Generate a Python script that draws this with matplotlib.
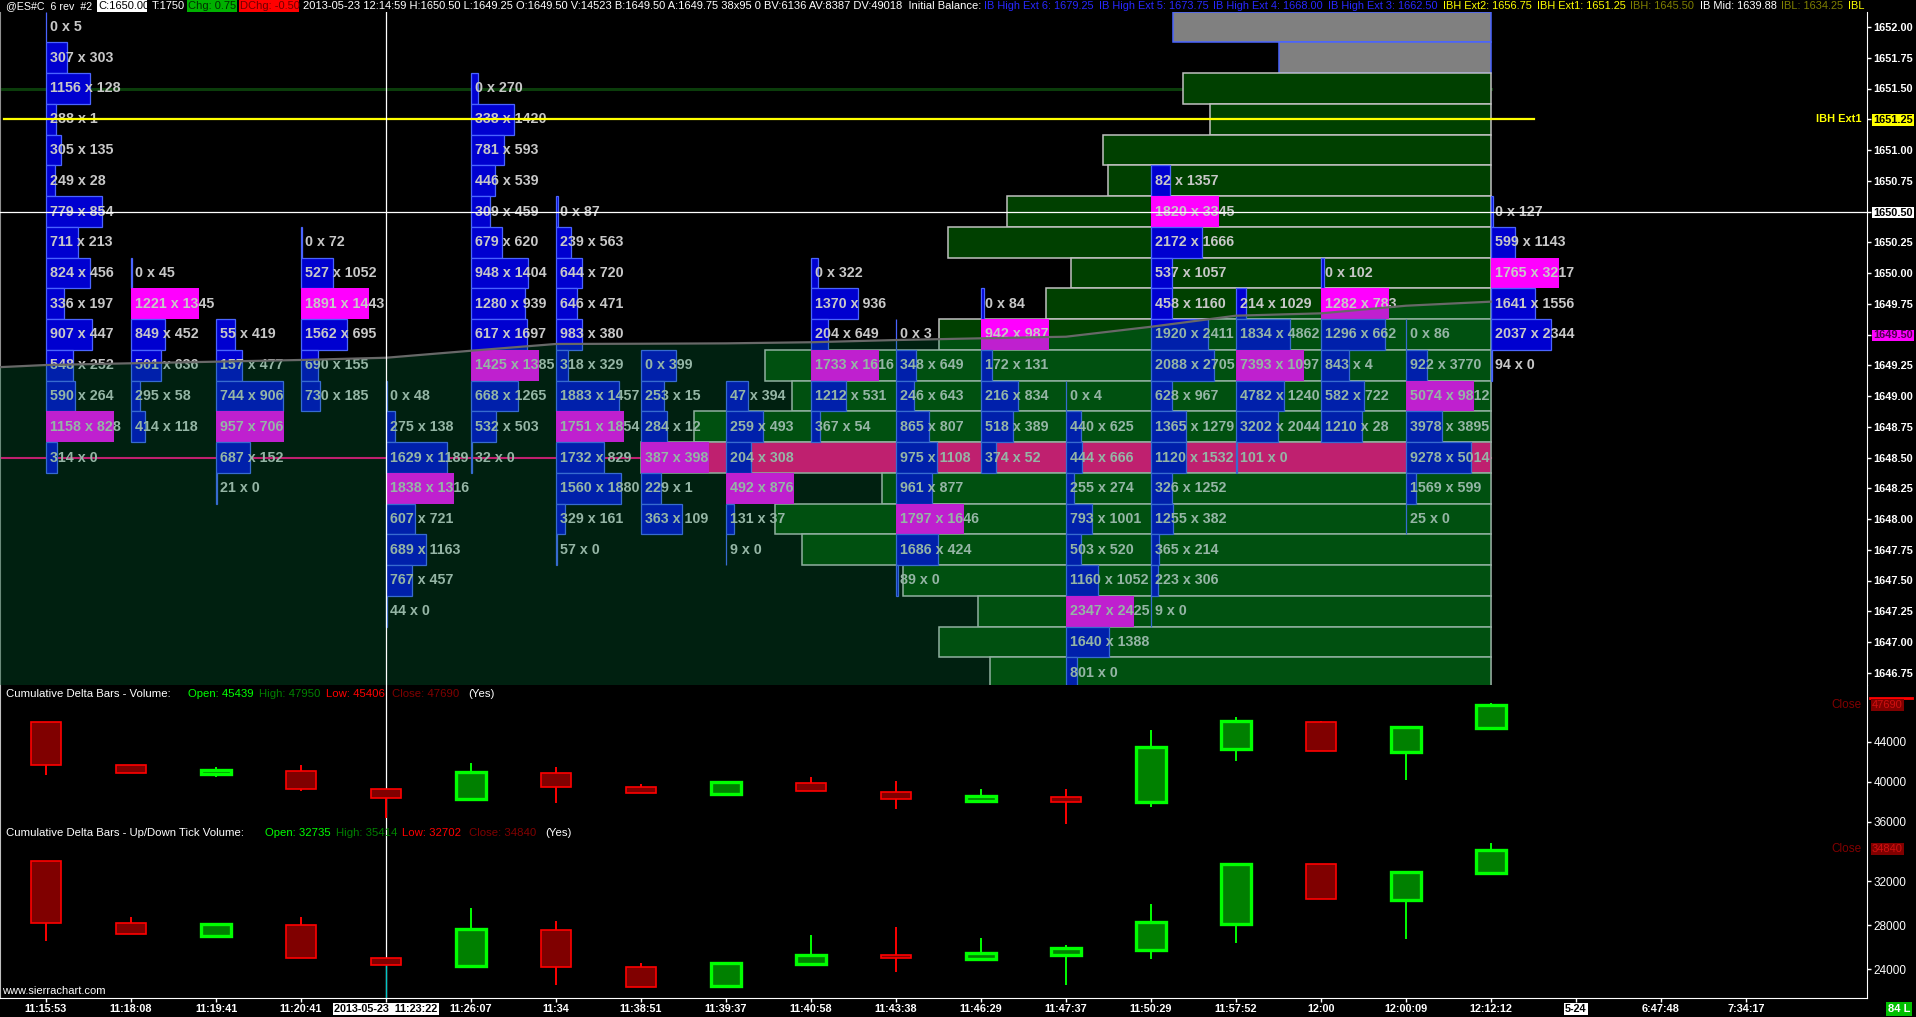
import numpy as np
import matplotlib
matplotlib.use("Agg")
import matplotlib.pyplot as plt
from matplotlib.patches import Rectangle
from matplotlib.lines import Line2D

plt.rcParams['font.family'] = ['Liberation Sans', 'DejaVu Sans']

W, H = 1916, 1017

# -----------------------------------------------------------------------------
# Footprint data: top price of each bar, then bid x ask per 0.25 row (top down)
# -----------------------------------------------------------------------------
col_top = [1652.00, 1650.00, 1649.50, 1650.25, 1649.00, 1651.50, 1650.50, 1649.25, 1649.00,
           1650.00, 1649.50, 1649.75, 1649.00, 1650.75, 1649.75, 1650.00, 1649.50, 1650.50]

col_bid = [
    [0, 307, 1156, 288, 305, 249, 779, 711, 824, 336, 907, 548, 590, 1158, 314],
    [0, 1221, 849, 501, 295, 414],
    [55, 157, 744, 957, 687, 21],
    [0, 527, 1891, 1562, 690, 730],
    [0, 275, 1629, 1838, 607, 689, 767, 44],
    [0, 338, 781, 446, 309, 679, 948, 1280, 617, 1425, 668, 532, 32],
    [0, 239, 644, 646, 983, 318, 1883, 1751, 1732, 1560, 329, 57],
    [0, 253, 284, 387, 229, 363],
    [47, 259, 204, 492, 131, 9],
    [0, 1370, 204, 1733, 1212, 367],
    [0, 348, 246, 865, 975, 961, 1797, 1686, 89],
    [0, 942, 172, 216, 518, 374],
    [0, 440, 444, 255, 793, 503, 1160, 2347, 1640, 801],
    [82, 1820, 2172, 537, 458, 1920, 2088, 628, 1365, 1120, 326, 1255, 365, 223, 9],
    [214, 1834, 7393, 4782, 3202, 101],
    [0, 1282, 1296, 843, 582, 1210],
    [0, 922, 5074, 3978, 9278, 1569, 25],
    [0, 599, 1765, 1641, 2037, 94],
]
col_ask = [
    [5, 303, 128, 1, 135, 28, 854, 213, 456, 197, 447, 252, 264, 828, 0],
    [45, 1345, 452, 636, 58, 118],
    [419, 477, 906, 706, 152, 0],
    [72, 1052, 1443, 695, 155, 185],
    [48, 138, 1189, 1316, 721, 1163, 457, 0],
    [270, 1420, 593, 539, 459, 620, 1404, 939, 1697, 1385, 1265, 503, 0],
    [87, 563, 720, 471, 380, 329, 1457, 1854, 829, 1880, 161, 0],
    [399, 15, 12, 398, 1, 109],
    [394, 493, 308, 876, 37, 0],
    [322, 936, 649, 1616, 531, 54],
    [3, 649, 643, 807, 1108, 877, 1646, 424, 0],
    [84, 987, 131, 834, 389, 52],
    [4, 625, 666, 274, 1001, 520, 1052, 2425, 1388, 0],
    [1357, 3345, 1666, 1057, 1160, 2411, 2705, 967, 1279, 1532, 1252, 382, 214, 306, 0],
    [1029, 4862, 1097, 1240, 2044, 0],
    [102, 783, 662, 4, 722, 28],
    [86, 3770, 9812, 3895, 5014, 599, 0],
    [127, 1143, 3217, 1556, 2344, 0],
]

# session volume profile (relative volume, top price 1652.00 downward)
profile_top = 1652.00
profile_volume = [318, 212, 308, 281, 388, 383, 484, 543, 420, 445, 552,
                  726, 699, 797, 850, 609, 716, 689, 588, 513, 552, 501]
profile_gray_rows = 2

# VWAP-like line, one value per bar (bar -1 is the one left of the screen)
vwap_x = list(range(-1, 18))
vwap = [1649.220, 1649.252, 1649.266, 1649.279, 1649.293, 1649.311, 1649.368, 1649.423,
        1649.425, 1649.428, 1649.437, 1649.455, 1649.469, 1649.482, 1649.563, 1649.653,
        1649.672, 1649.734, 1649.767]

# cumulative delta - volume
cd_open = [45970, 41670, 40830, 41100, 39270, 38300, 40870, 39470, 38800,
           39900, 39000, 38130, 38500, 37970, 43270, 45970, 42970, 45439]
cd_high = [45970, 41670, 41470, 41670, 39270, 41870, 41470, 39770, 40000,
           40500, 40100, 39300, 39300, 45200, 46500, 46100, 45470, 47950]
cd_low = [40730, 40930, 40500, 39130, 36370, 38300, 37930, 38870, 38800,
          39100, 37300, 38130, 35800, 37500, 42130, 43070, 40230, 45406]
cd_close = [41670, 40930, 41200, 39270, 38370, 40970, 39470, 38870, 40000,
            39100, 38300, 38600, 38030, 43470, 46070, 43070, 45470, 47690]

# cumulative delta - up/down tick volume
tk_open = [33790, 28155, 27027, 27973, 25000, 24245, 27545, 24145, 22455,
           24427, 25245, 24882, 25236, 25727, 28064, 33518, 30245, 32735]
tk_high = [33790, 28727, 28064, 28727, 25000, 29545, 28364, 24509, 24573,
           27090, 27818, 26818, 26155, 29909, 33573, 33518, 32791, 35414]
tk_low = [26573, 27155, 26936, 24964, 24330, 24245, 22573, 22327, 22455,
          24427, 23755, 24882, 22564, 24936, 26391, 30336, 26755, 32702]
tk_close = [28155, 27155, 28064, 24964, 24330, 27636, 24155, 22327, 24573,
            25300, 24973, 25427, 25882, 28245, 33573, 30336, 32791, 34840]

time_labels = ["11:15:53", "11:18:08", "11:19:41", "11:20:41", "2013-05-23  11:23:22",
               "11:26:07", "11:34", "11:38:51", "11:39:37", "11:40:58", "11:43:38",
               "11:46:29", "11:47:37", "11:50:29", "11:57:52", "12:00", "12:00:09",
               "12:12:12", "5-24", "6:47:48", "7:34:17"]

# -----------------------------------------------------------------------------
# Layout helpers (pixel based)
# -----------------------------------------------------------------------------
X0_PX, COL_PX, AXIS_PX = 46, 85, 1867
XLIM = (-X0_PX / COL_PX, (AXIS_PX - X0_PX) / COL_PX)
PX_PER_POINT = 123.0   # pixels per 1.00 of price
MAIN_TOP, MAIN_BOT = 12, 685


def rect_px(x0, y0, x1, y1):
    return [x0 / W, 1 - y1 / H, (x1 - x0) / W, (y1 - y0) / H]


def fx(x):
    return x / W


def fy(y):
    return 1 - y / H


def ux(px):
    return (px - X0_PX) / COL_PX


fig = plt.figure(figsize=(W / 100, H / 100), dpi=100, facecolor='black')
renderer = fig.canvas.get_renderer()

# --- main footprint panel ---
ax = fig.add_axes(rect_px(0, MAIN_TOP, AXIS_PX, MAIN_BOT))
ax.set_facecolor('black')

# volume profile drawn from bar 17 leftwards
pmax = max(profile_volume)
for k, v in enumerate(profile_volume):
    p = profile_top - 0.25 * k
    w = v / pmax * 10.0
    if k < profile_gray_rows:
        fc, ec = '#808080', '#4a64ff'
    elif v == pmax:
        fc, ec = '#ff0080', '#c0c0c0'
    else:
        fc, ec = '#004000', '#c0c0c0'
    ax.add_patch(Rectangle((17 - w, p - 0.125), w, 0.25, fc=fc, ec=ec, lw=1.1, zorder=1))

ax.plot([XLIM[0], 17], [1651.50, 1651.50], color='#0b3d0b', lw=2.2, zorder=0.8)
ax.plot([XLIM[0], 17], [1648.50, 1648.50], color='#ff0080', lw=1.5, zorder=0.8)

for i, (top, bids, asks) in enumerate(zip(col_top, col_bid, col_ask)):
    tot = [b + a for b, a in zip(bids, asks)]
    vmax = max(tot)
    for k, (b, a, t) in enumerate(zip(bids, asks, tot)):
        p = top - 0.25 * k
        w = t / vmax * 0.8
        if t == vmax:
            ax.add_patch(Rectangle((i, p - 0.125), w, 0.25, fc='#ff00ff', ec='none', zorder=2))
        else:
            ax.add_patch(Rectangle((i, p - 0.125), w, 0.25, fc='#0000d0', ec='#4a64ff',
                                   lw=0.9, zorder=2))
        ax.text(i + 0.05, p, f"{b} x {a}", color='#c8c8c8', fontsize=10.3,
                fontweight='bold', va='center', ha='left', zorder=3)

ylo = 1652 - (MAIN_BOT - 27) / PX_PER_POINT
yhi = 1652 + (27 - MAIN_TOP) / PX_PER_POINT
ax.fill_between(vwap_x, vwap, ylo, color=(0, 0.5, 0.25), alpha=0.25, lw=0, zorder=4)
ax.plot(vwap_x, vwap, color='#686868', lw=1.6, zorder=5)

ax.plot([ux(4), ux(1534)], [1651.25, 1651.25], color='#ffff00', lw=1.6, zorder=6)
ax.axhline(1650.50, color='white', lw=0.9, zorder=6)
ax.axvline(4, color='white', lw=0.9, zorder=6)

ax.set_xlim(*XLIM)
ax.set_ylim(ylo, yhi)
ax.set_xticks([])
ticks = np.arange(1646.75, 1652.01, 0.25)
ax.yaxis.tick_right()
ax.set_yticks(ticks)
ax.set_yticklabels([f"{t:.2f}" for t in ticks])
ax.tick_params(axis='y', colors='white', length=3, width=1, pad=1.5, labelsize=7.9)
special = {1651.25: ('#ffff00', 'black'), 1650.50: ('white', 'black'),
           1649.50: ('#ff00ff', '#500050')}
for t, lab in zip(ticks, ax.get_yticklabels()):
    lab.set_fontweight('bold')
    for sp, (bg, fg) in special.items():
        if abs(t - sp) < 1e-6:
            lab.set_color(fg)
            lab.set_bbox(dict(facecolor=bg, edgecolor='none', pad=0.6))
for s in ['top', 'bottom']:
    ax.spines[s].set_visible(False)
ax.spines['right'].set_color('white')
ax.spines['left'].set_color('#909090')
fig.text(fx(1862), fy(119), "IBH Ext1", color='#ffff00', fontsize=7.9, fontweight='bold',
         ha='right', va='center')


# --- candle panels ---
def draw_candles(a, o, h, l, c):
    bw = 0.35
    for i in range(len(o)):
        up = c[i] >= o[i]
        edge = '#00ff00' if up else '#ff0000'
        face = '#008000' if up else '#800000'
        a.plot([i, i], [l[i], h[i]], color=edge, lw=1.4, zorder=2, solid_capstyle='butt')
        lo, hi = min(o[i], c[i]), max(o[i], c[i])
        a.add_patch(Rectangle((i - bw / 2, lo), bw, hi - lo, fc=face, ec=edge,
                              lw=2.4 if up else 1.2, zorder=3))


def style_panel(a, ylim, yticks):
    a.set_facecolor('black')
    a.set_xlim(*XLIM)
    a.set_ylim(*ylim)
    a.yaxis.tick_right()
    a.set_yticks(yticks)
    a.set_yticklabels([str(v) for v in yticks])
    a.tick_params(axis='y', colors='white', length=3, width=1, pad=1.5, labelsize=8.5)
    a.spines['top'].set_visible(False)
    a.spines['right'].set_color('white')
    a.spines['left'].set_color('#c0c0c0')
    a.axvline(4, color='white', lw=0.9, zorder=1)


ax2 = fig.add_axes(rect_px(0, MAIN_BOT, AXIS_PX, 825))
draw_candles(ax2, cd_open, cd_high, cd_low, cd_close)
style_panel(ax2, (44000 - (825 - 742) * 100, 44000 + (742 - MAIN_BOT) * 100),
            [36000, 40000, 44000])
ax2.spines['bottom'].set_visible(False)
ax2.set_xticks([])

ax3 = fig.add_axes(rect_px(0, 825, AXIS_PX, 998))
tk_per_px = 4000 / 44
tk_ylim = (32000 - (998 - 881) * tk_per_px, 32000 + (881 - 825) * tk_per_px)
draw_candles(ax3, tk_open, tk_high, tk_low, tk_close)
style_panel(ax3, tk_ylim, [24000, 28000, 32000])
ax3.plot([4, 4], [tk_ylim[0], min(tk_open[4], tk_close[4])], color='#00c8c8', lw=0.9, zorder=1.5)
ax3.spines['bottom'].set_color('white')
ax3.set_xticks(range(len(time_labels)))
ax3.set_xticklabels(time_labels)
ax3.tick_params(axis='x', colors='white', length=3, width=1, pad=1.5, labelsize=7.8)
for k, lab in enumerate(ax3.get_xticklabels()):
    lab.set_fontweight('bold')
    if k in (4, 18):
        lab.set_color('black')
        lab.set_bbox(dict(facecolor='white', edgecolor='none', pad=0.8))

# --- panel titles ---
title_font = dict(fontsize=8.2, va='center', ha='left')
for x, s, col in [(6, "Cumulative Delta Bars - Volume:", 'white'),
                  (188, "Open: 45439", '#00ff00'), (259, "High: 47950", '#008000'),
                  (326, "Low: 45406", '#ff0000'), (392, "Close: 47690", '#800000'),
                  (468, "(Yes)", 'white')]:
    fig.text(fx(x), fy(694), s, color=col, **title_font)
for x, s, col in [(6, "Cumulative Delta Bars - Up/Down Tick Volume:", 'white'),
                  (265, "Open: 32735", '#00ff00'), (336, "High: 35414", '#008000'),
                  (402, "Low: 32702", '#ff0000'), (469, "Close: 34840", '#800000'),
                  (545, "(Yes)", 'white')]:
    fig.text(fx(x), fy(833), s, color=col, **title_font)

for y, v in [(705, "47690"), (849, "34840")]:
    fig.text(fx(1862), fy(y), "Close", color='#800000', fontsize=8.5, ha='right', va='center')
    fig.text(fx(1872), fy(y), v, color='#d01010', fontsize=8, ha='left', va='center',
             bbox=dict(facecolor='#800000', edgecolor='none', pad=1))
fig.add_artist(Line2D([fx(1870), fx(1912)], [fy(698), fy(698)], color='#ff0000', lw=2,
                      transform=fig.transFigure))

fig.text(fx(2), fy(991), "www.sierrachart.com", color='white', fontsize=8, va='center')
fig.text(fx(1899), fy(1009), "84 L", color='white', fontsize=8, fontweight='bold',
         ha='center', va='center', bbox=dict(facecolor='#00c000', edgecolor='none', pad=1.5))

# --- header line ---
axh = fig.add_axes(rect_px(0, 0, AXIS_PX, MAIN_TOP))
axh.set_xlim(0, AXIS_PX)
axh.set_ylim(MAIN_TOP, 0)
axh.axis('off')
for x0, x1, col in [(97, 147, 'white'), (187, 237, '#00b000'), (239, 299, '#ff0000')]:
    axh.add_patch(Rectangle((x0, 0), x1 - x0, MAIN_TOP, fc=col, ec='none'))
HEAD_SIZE = 8.0
fixed_parts = [
    (6, "@ES#C  6 rev  #2", 'white'),
    (98, "C:1650.00", 'black'),
    (152, "T:1750", 'white'),
    (188, "Chg: 0.75", '#003000'),
    (240, "DChg: -0.50", '#700000'),
    (303, "2013-05-23 12:14:59 H:1650.50 L:1649.25 O:1649.50 V:14523 B:1649.50 "
          "A:1649.75 38x95 0 BV:6136 AV:8387 DV:49018  Initial Balance:", 'white'),
]
for k, (x, s, col) in enumerate(fixed_parts):
    t = axh.text(x, 6.3, s, color=col, fontsize=HEAD_SIZE, va='center', ha='left',
                 clip_on=True)
    if k == 0:
        # the symbol name is drawn a little larger: fill the room up to the C: box
        wpx = t.get_window_extent(renderer).width
        t.set_fontsize(HEAD_SIZE * 87 / wpx)

ib_parts = [
    ("IB High Ext 6: 1679.25", '#2828ff'), ("IB High Ext 5: 1673.75", '#2828ff'),
    ("IB High Ext 4: 1668.00", '#2828ff'), ("IB High Ext 3: 1662.50", '#2828ff'),
    ("IBH Ext2: 1656.75", '#ffff00'), ("IBH Ext1: 1651.25", '#ffff00'),
    ("IBH: 1645.50", '#808000'), ("IB Mid: 1639.88", 'white'),
    ("IBL: 1634.25", '#808000'), ("IBL Ext1:", '#ffff00'),
]
xpos = 984.0
for s, col in ib_parts:
    t = axh.text(xpos, 6.3, s, color=col, fontsize=7.9, va='center', ha='left',
                 clip_on=True)
    xpos += t.get_window_extent(renderer).width + 5

fig.savefig("out.png", dpi=100, facecolor='black')
